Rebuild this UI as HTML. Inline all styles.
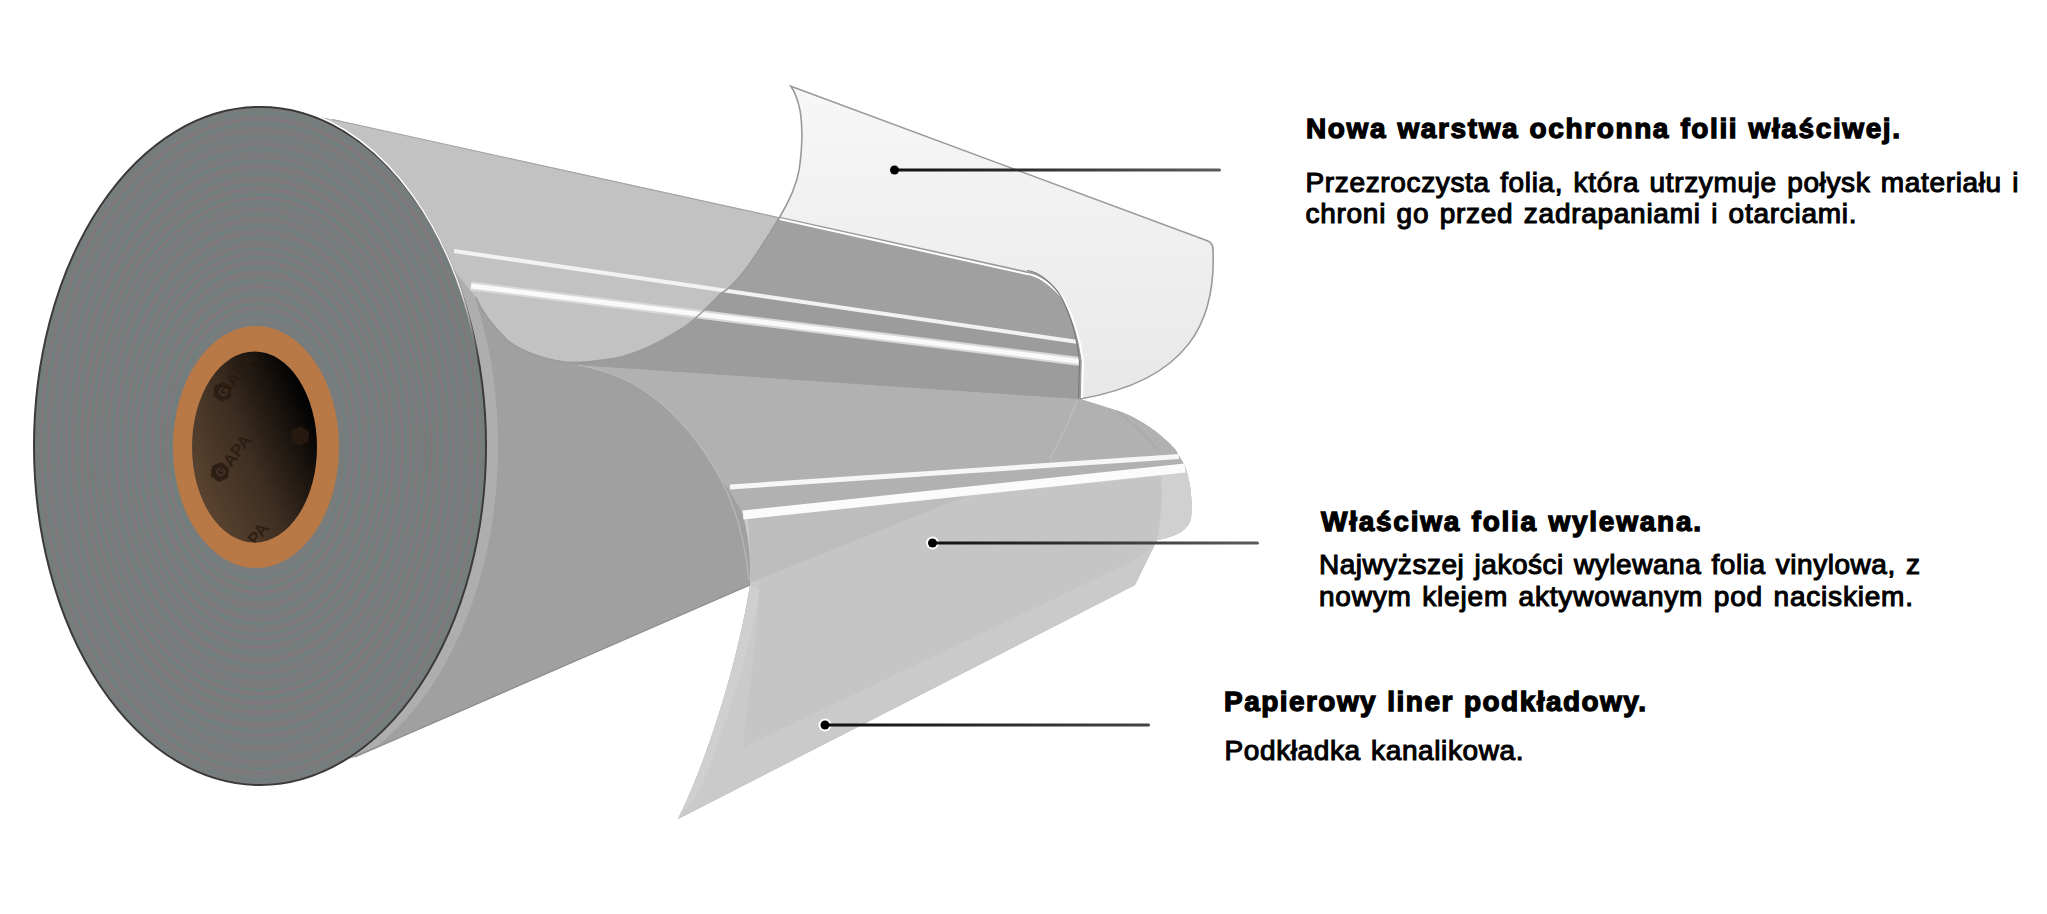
<!DOCTYPE html>
<html><head><meta charset="utf-8">
<style>
html,body{margin:0;padding:0;background:#fff;}
body{width:2047px;height:914px;overflow:hidden;position:relative;}
svg{position:absolute;left:0;top:0;}
.h{font-family:"Liberation Sans",sans-serif;font-weight:bold;font-size:28px;fill:#000;stroke:#000;stroke-width:1.3;word-spacing:1px;}
.b{font-family:"Liberation Sans",sans-serif;font-size:28px;fill:#000;stroke:#000;stroke-width:1.1;word-spacing:2px;}
</style></head>
<body>
<svg width="2047" height="914" viewBox="0 0 2047 914">
<defs>
  <linearGradient id="core" x1="0.1" x2="0.9" y1="0.8" y2="0.25">
    <stop offset="0" stop-color="#5a4330"/><stop offset="0.45" stop-color="#3f2f22"/><stop offset="1" stop-color="#040404"/>
  </linearGradient>
  <linearGradient id="sheetg" x1="0" x2="0" y1="0" y2="1">
    <stop offset="0" stop-color="#f7f7f7"/><stop offset="1" stop-color="#e8e8e8"/>
  </linearGradient>
  <linearGradient id="ll1" gradientUnits="userSpaceOnUse" x1="895" x2="1221" y1="0" y2="0"><stop offset="0" stop-color="#111"/><stop offset="1" stop-color="#5c5c5c"/></linearGradient>
  <linearGradient id="ll2" gradientUnits="userSpaceOnUse" x1="933" x2="1259" y1="0" y2="0"><stop offset="0" stop-color="#111"/><stop offset="1" stop-color="#5c5c5c"/></linearGradient>
  <linearGradient id="ll3" gradientUnits="userSpaceOnUse" x1="825" x2="1150" y1="0" y2="0"><stop offset="0" stop-color="#111"/><stop offset="1" stop-color="#444"/></linearGradient>
</defs>

<!-- base body silhouette (mid gray) -->
<path fill="#a0a0a0" d="M260,107 L332.8,119.5 L1027,272 C1040,273 1053,285 1061,296 C1070,312 1077,330 1081,361 L1080,399
 L1117.5,410.7 C1135,416 1160,432 1175,449 L1185,466 C1190,480 1193,500 1191,518 C1189,530 1175,537 1157,540
 C1150,555 1142,570 1135,585 L678,819 C712,750 740,650 750,585 L355,757 L261,785 Z"/>

<!-- rim band -->
<clipPath id="bodyclip"><path d="M260,107 L332.8,119.5 L1027,272 L1080,399 L750,585 L355,755 L261,785 Z"/></clipPath>
<ellipse cx="272" cy="446" rx="226" ry="339" fill="#afafaf" clip-path="url(#bodyclip)" opacity="0.9"/>
<!-- vinyl upper region -->
<path fill="#b1b1b1" d="M578,365 L1080,399 L1117.5,410.7 C1135,416 1160,432 1175,449 L1185,466 L743,515
 C738,505 730,490 720,478 C705,450 680,415 649,394 C630,380 605,370 578,365 Z"/>
<!-- faint curl lines in vinyl region -->
<path fill="none" stroke="#bdbdbd" stroke-width="1.5" d="M1077,400 C1070,420 1060,440 1050,459"/>
<path fill="none" stroke="#a9a9a9" stroke-width="1.2" d="M1117,411 C1135,425 1150,440 1159,452"/>

<!-- liner outer region -->
<path fill="#cacaca" d="M743,515 L1185,466 C1190,480 1193,500 1191,518 C1189,530 1175,537 1157,540
 C1150,555 1142,570 1135,585 L678,819 C712,750 740,650 750,585 C751,555 748,535 743,515 Z"/>
<!-- inner vinyl -->
<path fill="#c5c5c5" d="M752,519 L1161,476 C1163,495 1162,520 1159,537 C1152,548 1142,556 1131,562 L742.5,747.5 C750,690 758,630 759,583 C758,560 756,540 752,519 Z"/>
<!-- darker triangle upper-left -->
<path fill="#bdbdbd" d="M748,519 L966,496 L750,583 C750,560 750,540 748,519 Z"/>
<!-- lighter left band of liner -->
<path fill="#d0d0d0" opacity="0.8" d="M750,585 C740,650 712,750 678,819 L700,790 C725,730 748,660 760,590 Z"/>
<!-- end cap lighter -->
<path fill="#d0d0d0" d="M1161,472 L1185,466 C1190,480 1193,500 1191,518 C1189,530 1175,537 1157,540 C1161,520 1163,495 1161,472 Z"/>

<!-- dark band below upper stripes -->
<path fill="#9c9c9c" d="M578,365 L540,330 L540,264 L1079,341 L1081,361 L1080,399 Z"/>

<!-- upper light region (curl) -->
<path fill="#c2c2c2" d="M325,118 L332.8,119.5 L779.5,217.5 C770,232 760,250 745,270 C735,283 728,290 720,294
 C705,310 690,325 677.6,331 C655,345 630,357 606,359.5 C590,362 575,363 564,362 C540,358 520,350 507,340
 C495,328 482,312 475.6,297 L430,240 L400,190 L360,150 Z"/>

<line x1="332.8" y1="119.5" x2="779.5" y2="217.8" stroke="#a5a5a5" stroke-width="1.2"/>
<!-- upper stripes -->
<line x1="454" y1="251" x2="1078" y2="342" stroke="#f2f2f2" stroke-width="4"/>
<line x1="471" y1="286" x2="1080" y2="361.5" stroke="#d8d8d8" stroke-width="9"/>
<line x1="471" y1="286" x2="1080" y2="361.5" stroke="#fafafa" stroke-width="5"/>

<!-- lower stripes -->
<line x1="730" y1="487" x2="1179" y2="456.5" stroke="#f6f6f6" stroke-width="5"/>
<line x1="743" y1="515" x2="1185" y2="468" stroke="#fbfbfb" stroke-width="9"/>

<!-- top sheet over background -->
<path fill="url(#sheetg)" stroke="#9a9a9a" stroke-width="1.6" d="M790.9,86.2 L1208,241 Q1213,243 1213,250 C1216,320 1190,380 1080,399
 L1081,361 C1077,330 1070,312 1061,296 C1053,285 1040,273 1027,272 L779.5,217.5
 C790,200 797,182 799.2,169.7 C802,150 803,130 800.3,111.6 C798,100 795,92 790.9,86.2 Z"/>
<!-- highlight along body end boundary and top edge -->
<path fill="none" stroke="#ffffff" stroke-width="2" d="M779.5,219 L1027,274 C1040,275 1053,287 1063,298 C1072,314 1079,332 1083,361 L1082,398"/>
<path fill="none" stroke="#7a7a7a" stroke-width="1.2" d="M1027,270.5 C1040,272 1052,284 1060,295 C1069,311 1076,330 1079.5,361 L1078.5,398"/>
<!-- sheet left edge continuing into curl -->
<path fill="none" stroke="#9a9a9a" stroke-width="1.4" d="M779.5,217.5 C770,232 760,250 745,270 C735,283 728,290 720,294
 C705,310 690,325 677.6,331 C655,345 630,357 606,359.5 C590,362 575,363 564,362 C540,358 520,350 507,340 C495,328 482,312 475.6,297"/>
<!-- arc edge of vinyl left -->
<path fill="none" stroke="#b9b9b9" stroke-width="1.2" d="M578,365 C605,370 630,380 649,394 C680,415 705,450 720,478 C735,505 745,540 749,580"/>

<line x1="750" y1="585" x2="355" y2="757" stroke="#8c8c8c" stroke-width="1.3"/>
<!-- end face -->
<ellipse cx="260" cy="446" rx="226" ry="339" fill="#797c7c" stroke="#3a3a3a" stroke-width="2"/>
<linearGradient id="hl" gradientUnits="userSpaceOnUse" x1="0" y1="110" x2="0" y2="360"><stop offset="0" stop-color="#fff" stop-opacity="1"/><stop offset="0.7" stop-color="#fff" stop-opacity="0.9"/><stop offset="1" stop-color="#fff" stop-opacity="0"/></linearGradient>
<path fill="none" stroke="url(#hl)" stroke-width="1.8" d="M300,110 A227.5,340.5 0 0 1 478,360"/>
<g fill="none" opacity="0.75">
<ellipse cx="260.0" cy="446" rx="223.0" ry="333.8" stroke="#62857f" stroke-width="0.9"/>
<ellipse cx="259.9" cy="446" rx="218.5" ry="327.1" stroke="#8a707a" stroke-width="1.3"/>
<ellipse cx="259.9" cy="446" rx="215.5" ry="322.6" stroke="#62857f" stroke-width="1.1"/>
<ellipse cx="259.8" cy="446" rx="211.0" ry="315.9" stroke="#8a707a" stroke-width="1.1"/>
<ellipse cx="259.8" cy="446" rx="206.5" ry="309.1" stroke="#62857f" stroke-width="0.9"/>
<ellipse cx="259.7" cy="446" rx="202.0" ry="302.4" stroke="#8a707a" stroke-width="0.9"/>
<ellipse cx="259.7" cy="446" rx="198.0" ry="296.4" stroke="#62857f" stroke-width="1.1"/>
<ellipse cx="259.7" cy="446" rx="193.5" ry="289.7" stroke="#8a707a" stroke-width="0.9"/>
<ellipse cx="259.6" cy="446" rx="190.5" ry="285.2" stroke="#62857f" stroke-width="1.3"/>
<ellipse cx="259.6" cy="446" rx="186.5" ry="279.2" stroke="#8a707a" stroke-width="1.3"/>
<ellipse cx="259.5" cy="446" rx="182.0" ry="272.5" stroke="#62857f" stroke-width="1.1"/>
<ellipse cx="259.5" cy="446" rx="178.0" ry="266.5" stroke="#8a707a" stroke-width="1.3"/>
<ellipse cx="259.5" cy="446" rx="175.0" ry="262.0" stroke="#62857f" stroke-width="0.9"/>
<ellipse cx="259.4" cy="446" rx="172.0" ry="257.5" stroke="#8a707a" stroke-width="1.3"/>
<ellipse cx="259.4" cy="446" rx="168.0" ry="251.5" stroke="#62857f" stroke-width="1.3"/>
<ellipse cx="259.4" cy="446" rx="165.5" ry="247.8" stroke="#8a707a" stroke-width="1.3"/>
<ellipse cx="259.3" cy="446" rx="163.0" ry="244.0" stroke="#62857f" stroke-width="0.9"/>
<ellipse cx="259.3" cy="446" rx="158.5" ry="237.3" stroke="#8a707a" stroke-width="0.9"/>
<ellipse cx="259.2" cy="446" rx="155.0" ry="232.0" stroke="#62857f" stroke-width="0.9"/>
<ellipse cx="259.2" cy="446" rx="151.5" ry="226.8" stroke="#8a707a" stroke-width="1.1"/>
<ellipse cx="259.2" cy="446" rx="147.0" ry="220.1" stroke="#62857f" stroke-width="1.3"/>
<ellipse cx="259.1" cy="446" rx="143.0" ry="214.1" stroke="#8a707a" stroke-width="1.3"/>
<ellipse cx="259.1" cy="446" rx="139.0" ry="208.1" stroke="#62857f" stroke-width="1.1"/>
<ellipse cx="259.0" cy="446" rx="134.5" ry="201.3" stroke="#8a707a" stroke-width="1.1"/>
<ellipse cx="259.0" cy="446" rx="131.5" ry="196.9" stroke="#62857f" stroke-width="1.1"/>
<ellipse cx="259.0" cy="446" rx="129.0" ry="193.1" stroke="#8a707a" stroke-width="0.9"/>
<ellipse cx="258.9" cy="446" rx="126.0" ry="188.6" stroke="#62857f" stroke-width="1.1"/>
<ellipse cx="258.9" cy="446" rx="123.0" ry="184.1" stroke="#8a707a" stroke-width="1.1"/>
<ellipse cx="258.9" cy="446" rx="119.0" ry="178.1" stroke="#62857f" stroke-width="1.3"/>
<ellipse cx="258.8" cy="446" rx="115.5" ry="172.9" stroke="#8a707a" stroke-width="1.1"/>
<ellipse cx="258.8" cy="446" rx="111.0" ry="166.2" stroke="#62857f" stroke-width="1.1"/>
<ellipse cx="258.7" cy="446" rx="106.5" ry="159.4" stroke="#8a707a" stroke-width="1.1"/>
<ellipse cx="258.7" cy="446" rx="102.0" ry="152.7" stroke="#62857f" stroke-width="1.3"/>
<ellipse cx="258.6" cy="446" rx="98.0" ry="146.7" stroke="#8a707a" stroke-width="1.3"/>
<ellipse cx="258.6" cy="446" rx="95.0" ry="142.2" stroke="#62857f" stroke-width="1.1"/>
<ellipse cx="258.6" cy="446" rx="92.5" ry="138.5" stroke="#8a707a" stroke-width="1.1"/>
<ellipse cx="258.5" cy="446" rx="88.0" ry="131.7" stroke="#62857f" stroke-width="1.3"/>
</g>
<!-- core -->
<ellipse cx="256" cy="447" rx="83" ry="121" fill="#b87946"/>
<ellipse cx="254.5" cy="447" rx="62.5" ry="95.5" fill="url(#core)"/>
<clipPath id="holeclip"><ellipse cx="254.5" cy="447" rx="62.5" ry="95.5"/></clipPath>
<g clip-path="url(#holeclip)">
<g fill="#2a1c11" opacity="0.85" font-family="Liberation Sans" font-weight="bold" font-size="17">
  <g transform="translate(222.5,391.7) rotate(-53)"><polygon points="0,-10 8.7,-5 8.7,5 0,10 -8.7,5 -8.7,-5"/><text x="10" y="6.5">APA</text></g>
  <g transform="translate(220,472) rotate(-53)"><polygon points="0,-10 8.7,-5 8.7,5 0,10 -8.7,5 -8.7,-5"/><text x="10" y="6.5">APA</text></g>
  <g transform="translate(256,546) rotate(-53)"><text x="0" y="0">PA</text></g>
  <g transform="translate(300,436) rotate(-53)"><polygon points="0,-10 8.7,-5 8.7,5 0,10 -8.7,5 -8.7,-5"/></g>
</g>
<g fill="#5a4232" opacity="0.6" font-family="Liberation Sans" font-weight="bold" font-size="12">
  <g transform="translate(222.5,391.7) rotate(-53)"><text x="-4.5" y="4.5">G</text></g>
  <g transform="translate(220,472) rotate(-53)"><text x="-4.5" y="4.5">G</text></g>
</g>
</g>

<!-- leader lines -->
<rect x="895" y="168.5" width="326" height="3" rx="1.5" fill="url(#ll1)"/>
<circle cx="894.5" cy="170" r="4.5" fill="#000"/>
<circle cx="932.5" cy="543" r="6.5" fill="#fff"/>
<rect x="933" y="541.5" width="326" height="3" rx="1.5" fill="url(#ll2)"/>
<circle cx="932.5" cy="543" r="4.5" fill="#000"/>
<circle cx="825" cy="725" r="6.5" fill="#fff"/>
<rect x="825" y="723.5" width="325" height="3" rx="1.5" fill="url(#ll3)"/>
<circle cx="825" cy="725" r="4.5" fill="#000"/>

<!-- text -->
<text class="h" x="1306" y="138.3" textLength="594" lengthAdjust="spacing">Nowa warstwa ochronna folii właściwej.</text>
<text class="b" x="1305.5" y="191.5" textLength="713" lengthAdjust="spacing">Przezroczysta folia, która utrzymuje połysk materiału i</text>
<text class="b" x="1305.5" y="223" textLength="551" lengthAdjust="spacing">chroni go przed zadrapaniami i otarciami.</text>
<text class="h" x="1321" y="530.5" textLength="380" lengthAdjust="spacing">Właściwa folia wylewana.</text>
<text class="b" x="1319" y="574" textLength="601" lengthAdjust="spacing">Najwyższej jakości wylewana folia vinylowa, z</text>
<text class="b" x="1319" y="605.5" textLength="594" lengthAdjust="spacing">nowym klejem aktywowanym pod naciskiem.</text>
<text class="h" x="1224" y="710.5" textLength="422" lengthAdjust="spacing">Papierowy liner podkładowy.</text>
<text class="b" x="1224.5" y="759.6" textLength="299" lengthAdjust="spacing">Podkładka kanalikowa.</text>
</svg>
</body></html>
